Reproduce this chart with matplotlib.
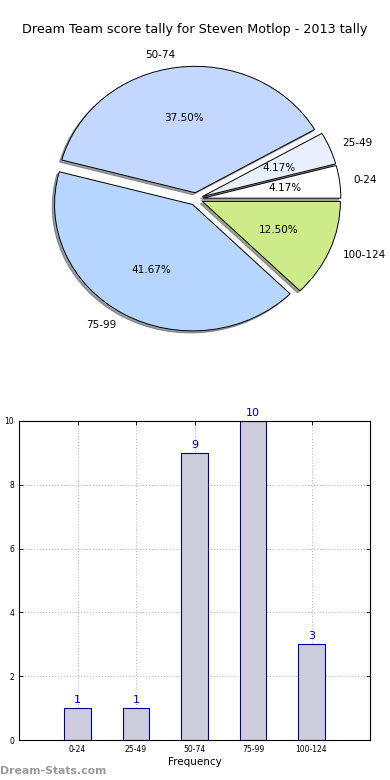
import numpy as np
import matplotlib
matplotlib.use("Agg")
import matplotlib.pyplot as plt

# score bins and how many games fell in each
bins = ["0-24", "25-49", "50-74", "75-99", "100-124"]
counts = [1, 1, 9, 10, 3]
pie_colors = ["#ffffff", "#e8f0ff", "#c4d8ff", "#b6d6ff", "#cdeb8b"]

title = "Dream Team score tally for Steven Motlop - 2013 tally"

fig = plt.figure(figsize=(3.9, 7.8), dpi=100)

# pie on top (stretched a bit, not equal aspect)
ax1 = fig.add_axes([23.5 / 390, 423 / 780, 345 / 390, 316 / 780])
wedges, texts, autotexts = ax1.pie(
    counts, labels=bins, colors=pie_colors, explode=[0.05] * len(counts),
    autopct="%.2f%%", shadow=dict(ox=-0.012, oy=-0.012, alpha=0.5), startangle=0,
    wedgeprops=dict(edgecolor="black", linewidth=0.7),
    textprops=dict(fontsize=7.5))
ax1.set_aspect("auto")
fig.text(0.5, 1 - 30 / 780, title, ha="center", va="center", fontsize=9.2)

# bar chart below
ax2 = fig.add_axes([19 / 390, 40 / 780, 351 / 390, 319 / 780])
x = np.arange(len(bins))
ax2.bar(x, counts, width=0.45, color="#ccccdd", edgecolor="#000080", linewidth=0.8,
        zorder=2)
for xi, c in zip(x, counts):
    ax2.text(xi, c + 0.1, str(c), ha="center", va="bottom", color="#000080", fontsize=8)
ax2.set_xlim(-1, 5)
ax2.set_ylim(0, 10)
ax2.set_xticks(x)
ax2.set_xticklabels(bins, fontsize=5.5)
ax2.set_yticks(range(0, 11, 2))
ax2.tick_params(axis="y", labelsize=5.5)
ax2.tick_params(direction="in", top=True, right=True, length=3, width=0.6)
ax2.grid(True, linestyle=":", color="#bbbbbb", linewidth=0.8, zorder=0)
ax2.set_axisbelow(True)
ax2.set_xlabel("Frequency", fontsize=7.5, labelpad=2)
ax2.set_ylabel("Score Interval", fontsize=7.5, labelpad=10)
for s in ax2.spines.values():
    s.set_linewidth(0.8)

fig.text(0.0, 1 - 771 / 780, "Dream-Stats.com", fontsize=7.8, color="#999999",
         fontweight="bold", ha="left", va="center")

fig.savefig("out.png", dpi=100)
